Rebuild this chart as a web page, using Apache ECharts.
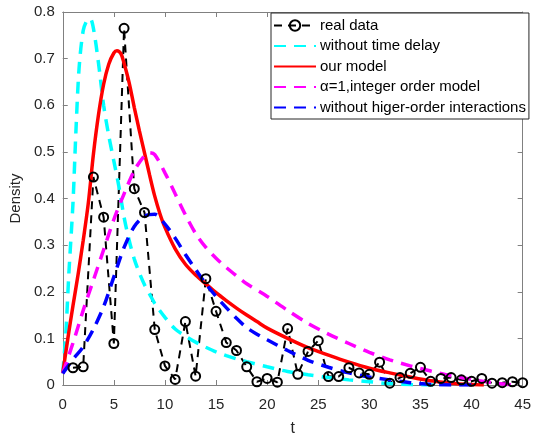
<!DOCTYPE html>
<html>
<head>
<meta charset="utf-8">
<script src="https://cdn.jsdelivr.net/npm/echarts@6/dist/echarts.min.js"></script>
<style>
  html, body { margin: 0; padding: 0; background: #fff; }
  #chart { width: 534px; height: 442px; }
</style>
</head>
<body>
<div id="chart"></div>
<script>
// real data, one point per day
const realT = Array.from({ length: 45 }, (_, i) => i + 1)
const realY = [0.037, 0.039, 0.446, 0.36, 0.089, 0.765, 0.421, 0.37, 0.119, 0.041,
  0.012, 0.136, 0.019, 0.228, 0.158, 0.091, 0.074, 0.039, 0.007, 0.014,
  0.006, 0.121, 0.023, 0.072, 0.095, 0.018, 0.018, 0.037, 0.026, 0.023,
  0.049, 0.004, 0.016, 0.025, 0.038, 0.008, 0.014, 0.016, 0.011, 0.008,
  0.014, 0.004, 0.005, 0.007, 0.005]

// without time delay
const noDelayT = [0, 0.3, 0.6, 1, 1.3, 1.6, 2, 2.4, 2.7, 3, 3.5, 4, 4.5, 5, 5.5, 6, 6.5, 7, 7.5, 8, 8.5, 9, 10, 11, 12, 13, 14, 15, 16, 17, 18, 20, 22, 24, 26, 28, 30, 32, 34, 36, 37]
const noDelayY = [0.025, 0.11, 0.24, 0.39, 0.55, 0.68, 0.76, 0.783, 0.785, 0.765, 0.69, 0.6, 0.535, 0.48, 0.425, 0.36, 0.31, 0.27, 0.24, 0.215, 0.195, 0.175, 0.145, 0.12, 0.105, 0.092, 0.081, 0.071, 0.063, 0.056, 0.05, 0.039, 0.029, 0.022, 0.016, 0.011, 0.007, 0.003, 0.001, 0, 0]

// our model
const modelT = [0, 0.5, 1, 1.5, 2, 2.5, 3, 3.5, 4, 4.5, 5, 5.3, 5.7, 6, 6.5, 7, 7.5, 8, 8.5, 9, 9.5, 10, 11, 12, 13, 14, 15, 16, 17, 18, 19, 20, 22, 24, 26, 28, 30, 32, 34, 36, 38, 40, 41.2]
const modelY = [0.025, 0.1, 0.17, 0.237, 0.31, 0.39, 0.495, 0.58, 0.645, 0.688, 0.712, 0.717, 0.71, 0.69, 0.648, 0.595, 0.545, 0.498, 0.45, 0.405, 0.368, 0.338, 0.292, 0.259, 0.236, 0.217, 0.198, 0.181, 0.165, 0.15, 0.136, 0.122, 0.1, 0.08, 0.064, 0.049, 0.036, 0.026, 0.017, 0.009, 0.004, 0.001, 0]

// alpha = 1, integer order model
const intT = [0, 1, 2, 3, 4, 5, 6, 7, 8, 8.5, 9, 10, 11, 12, 13, 14, 15, 16, 17, 18, 20, 22, 24, 26, 28, 30, 32, 34, 36, 38, 40, 42, 44]
const intY = [0.025, 0.09, 0.16, 0.225, 0.29, 0.355, 0.41, 0.46, 0.492, 0.498, 0.494, 0.455, 0.41, 0.365, 0.325, 0.295, 0.272, 0.252, 0.234, 0.217, 0.19, 0.16, 0.132, 0.109, 0.089, 0.07, 0.054, 0.041, 0.03, 0.02, 0.012, 0.005, 0]

// without higher-order interactions
const noHighT = [0, 0.5, 1, 2, 3, 4, 5, 6, 7, 8, 9, 10, 11, 12, 13, 14, 15, 16, 17, 18, 19, 20, 22, 24, 26, 28, 30, 32, 34, 36, 38, 40]
const noHighY = [0.025, 0.04, 0.055, 0.082, 0.12, 0.168, 0.232, 0.295, 0.34, 0.362, 0.366, 0.345, 0.315, 0.28, 0.248, 0.217, 0.19, 0.166, 0.143, 0.123, 0.109, 0.097, 0.074, 0.053, 0.038, 0.026, 0.017, 0.011, 0.005, 0.001, 0, 0]

const NAMES = ['real data', 'without time delay', 'our model', '\u03b1=1,integer order model', 'without higer-order interactions']

const pairs = (t, y) => t.map((v, i) => [v, y[i]])
const FONT = 'Liberation Sans, Arial, sans-serif'
const AXC = '#808080'
const TXT = '#262626'

const curve = (name, t, y, color, dashed) => ({
  name, type: 'line', data: pairs(t, y), showSymbol: false, symbol: 'none', smooth: 0.3,
  lineStyle: { color, width: 3.5, type: dashed ? [12, 8] : 'solid' },
  itemStyle: { color },
})

const chart = echarts.init(document.getElementById('chart'), null, { renderer: 'canvas' })
chart.setOption({
  animation: false,
  backgroundColor: '#fff',
  textStyle: { fontFamily: FONT },
  grid: { left: 61, top: 12, width: 469, height: 378 },
  legend: {
    orient: 'vertical', left: 271, top: 13,
    backgroundColor: '#fff', borderColor: '#262626', borderWidth: 1, borderRadius: 0,
    padding: [5, 3, 4, 2], itemWidth: 42, itemHeight: 13, itemGap: 5.5,
    textStyle: { fontFamily: FONT, fontSize: 15, color: '#000', padding: [0, 0, 0, -1] },
    data: NAMES.map((n, i) => i === 0 ? n : { name: n, itemStyle: { color: 'rgba(0,0,0,0)', borderWidth: 0 } }),
  },
  xAxis: [
    {
      type: 'value', min: 0, max: 45, interval: 5,
      name: 't', nameLocation: 'middle', nameGap: 36,
      nameTextStyle: { fontSize: 16, color: TXT },
      axisLine: { lineStyle: { color: AXC } },
      axisTick: { inside: true, length: 5, lineStyle: { color: AXC } },
      axisLabel: { fontSize: 15, color: TXT, margin: 12 },
      splitLine: { show: false },
    },
    {
      type: 'value', min: 0, max: 45, interval: 5, position: 'top',
      axisLine: { show: true, onZero: false, lineStyle: { color: AXC } },
      axisTick: { inside: true, length: 5, lineStyle: { color: AXC } },
      axisLabel: { show: false }, splitLine: { show: false },
    },
  ],
  yAxis: [
    {
      type: 'value', min: 0, max: 0.8, interval: 0.1,
      name: 'Density', nameLocation: 'middle', nameGap: 33,
      nameTextStyle: { fontSize: 15, color: TXT },
      axisLine: { show: true, lineStyle: { color: AXC } },
      axisTick: { show: true, inside: true, length: 5, lineStyle: { color: AXC } },
      axisLabel: { fontSize: 15, color: TXT, margin: 8 },
      splitLine: { show: false },
    },
    {
      type: 'value', min: 0, max: 0.8, interval: 0.1, position: 'right',
      axisLine: { show: true, onZero: false, lineStyle: { color: AXC } },
      axisTick: { show: true, inside: true, length: 5, lineStyle: { color: AXC } },
      axisLabel: { show: false }, splitLine: { show: false },
    },
  ],
  series: [
    {
      name: NAMES[0], type: 'line', data: pairs(realT, realY),
      symbol: 'circle', symbolSize: 9, showSymbol: true,
      lineStyle: { color: '#000', width: 2, type: [8, 6] },
      itemStyle: { color: 'rgba(0,0,0,0)', borderColor: '#000', borderWidth: 2 },
    },
    curve(NAMES[1], noDelayT, noDelayY, '#00ffff', true),
    curve(NAMES[2], modelT, modelY, '#ff0000', false),
    curve(NAMES[3], intT, intY, '#ff00ff', true),
    curve(NAMES[4], noHighT, noHighY, '#0000ff', true),
  ],
})
</script>
</body>
</html>
